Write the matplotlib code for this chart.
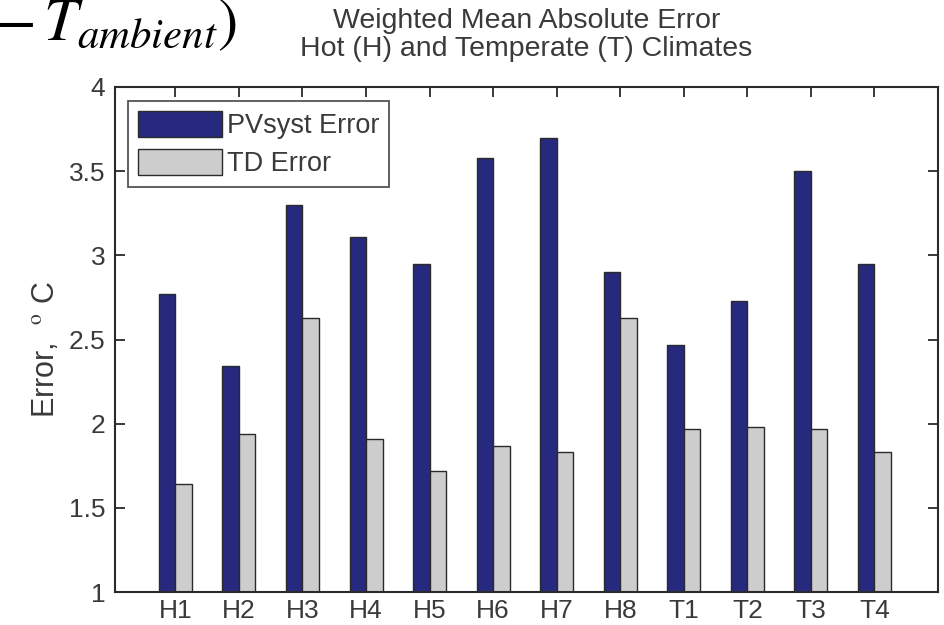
import matplotlib
matplotlib.use("Agg")
import matplotlib.pyplot as plt
import numpy as np

categories = ["H1", "H2", "H3", "H4", "H5", "H6", "H7", "H8", "T1", "T2", "T3", "T4"]
pvsyst_error = [2.77, 2.34, 3.30, 3.11, 2.95, 3.58, 3.70, 2.90, 2.47, 2.73, 3.50, 2.95]
td_error = [1.64, 1.94, 2.63, 1.91, 1.72, 1.87, 1.83, 2.63, 1.97, 1.98, 1.97, 1.83]
yticks = [1, 1.5, 2, 2.5, 3, 3.5, 4]
ytick_labels = ["1", "1.5", "2", "2.5", "3", "3.5", "4"]

plt.rcParams['font.family'] = ['Liberation Sans', 'DejaVu Sans']
plt.rcParams['mathtext.fontset'] = 'stix'
txt = '#3a3a3a'
edge = '#2a2a2a'

fig = plt.figure(figsize=(9.45, 6.25), dpi=100)
ax = fig.add_axes([0.1217, 0.0528, 0.8709, 0.808])

x = np.arange(1, len(categories) + 1)
w = 0.26
ax.bar(x - w / 2, pvsyst_error, width=w, bottom=0, color='#27297f', edgecolor=edge,
       linewidth=1.0, label='PVsyst Error', zorder=2)
ax.bar(x + w / 2, td_error, width=w, bottom=0, color='#cdcdcd', edgecolor=edge,
       linewidth=1.0, label='TD Error', zorder=2)

ax.set_xlim(0.05, 13)
ax.set_ylim(1, 4)
ax.set_xticks(x)
ax.set_xticklabels(categories)
ax.set_yticks(yticks)
ax.set_yticklabels(ytick_labels)
ax.tick_params(axis='both', direction='in', length=7, width=1.3, colors=edge,
               labelcolor=txt, labelsize=19, top=True, right=True)
ax.tick_params(axis='x', pad=5)
ax.tick_params(axis='y', pad=7)
for s in ax.spines.values():
    s.set_color(edge)
    s.set_linewidth(1.5)

ax.set_ylabel('Error,  $^{\\mathrm{o}}$ C', fontsize=22, color=txt,
              fontfamily=['Liberation Sans', 'DejaVu Sans'])
ax.yaxis.set_label_coords(-0.066, 0.48)
ax.set_title('Weighted Mean Absolute Error\nHot (H) and Temperate (T) Climates',
             fontsize=20.5, color=txt, pad=22, linespacing=1.1)

leg = ax.legend(loc='upper left', bbox_to_anchor=(0.016, 0.972), fontsize=19.5,
                frameon=True, fancybox=False, edgecolor=edge, handlelength=3.1,
                handleheight=1.1, handletextpad=0.2, borderpad=0.35,
                labelspacing=0.38, borderaxespad=0)
leg.get_frame().set_linewidth(1.3)
for t in leg.get_texts():
    t.set_color(txt)

fig.text(-0.006, 1.006, r'$-\,T_{ambient})$', fontsize=44, color='black',
         ha='left', va='top')

fig.savefig('out.png', dpi=100)
